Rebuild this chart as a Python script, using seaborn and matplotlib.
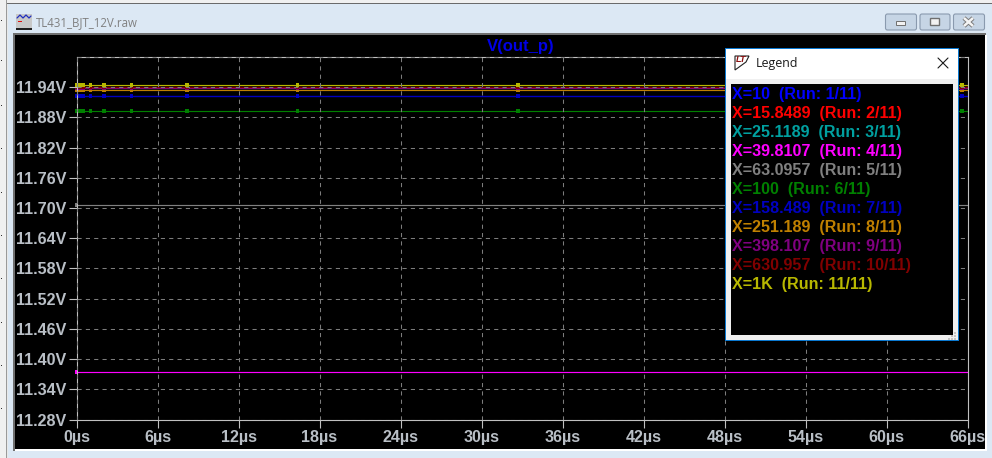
"""LTspice style waveform window for V(out_p), drawn with seaborn."""
from __future__ import annotations

import matplotlib

matplotlib.use("Agg")
import matplotlib.pyplot as plt
import numpy as np
import pandas as pd
import seaborn as sns
from matplotlib.patches import FancyBboxPatch, Polygon, Rectangle

W, H = 992, 458

RUN_LABELS = [
    "X=10  (Run: 1/11)", "X=15.8489  (Run: 2/11)", "X=25.1189  (Run: 3/11)",
    "X=39.8107  (Run: 4/11)", "X=63.0957  (Run: 5/11)", "X=100  (Run: 6/11)",
    "X=158.489  (Run: 7/11)", "X=251.189  (Run: 8/11)", "X=398.107  (Run: 9/11)",
    "X=630.957  (Run: 10/11)", "X=1K  (Run: 11/11)",
]
RUN_COLORS = [
    "#0000ff", "#ff0000", "#00a0a0", "#ff00ff", "#808080", "#008000",
    "#0000c0", "#c08000", "#800080", "#800000", "#b8b800",
]
RUN_LEVELS = [
    11.9225, 11.9400, 11.9380, 11.3740, 11.7060, 11.8927,
    11.9225, 11.9344, 11.9380, 11.9400, 11.9444,
]
SAMPLE_TIMES = [0, 0.25, 0.5, 1.02, 2.05, 4.06, 8.2, 16.35, 32.7, 65.6]
SHORT_RUNS = [3, 4]  # these two only carry a point at t=0
END_TIME = 66

Y_TICKS = [11.28, 11.34, 11.40, 11.46, 11.52, 11.58, 11.64, 11.70, 11.76, 11.82, 11.88, 11.94, 12.00]
X_TICKS = [0, 6, 12, 18, 24, 30, 36, 42, 48, 54, 60, 66]
TITLE = "V(out_p)"
WINDOW_TITLE = "TL431_BJT_12V.raw"
TICK_GREY = "#b9bfc6"


def build_frames() -> tuple[pd.DataFrame, pd.DataFrame]:
    lines, points = [], []
    for i, level in enumerate(RUN_LEVELS):
        times = SAMPLE_TIMES[:1] if i in SHORT_RUNS else SAMPLE_TIMES
        for t in times:
            points.append({"run": RUN_LABELS[i], "t": t, "v": level})
        for t in [0, END_TIME]:
            lines.append({"run": RUN_LABELS[i], "t": t, "v": level})
    return pd.DataFrame(lines), pd.DataFrame(points)


def rect(ax, x0, y0, x1, y1, color, **kw):
    ax.add_patch(Rectangle((x0, y0), x1 - x0, y1 - y0, facecolor=color, edgecolor="none", **kw))


def draw_chrome(ax) -> None:
    rect(ax, 0, 0, W, H, "#dce8f4")
    rect(ax, 0, 0, 6, H, "#f0f0f0")
    rect(ax, 6, 0, 7, H, "#9a9a9a")
    rect(ax, 7, 0, W, 3, "#f0f0f0")
    rect(ax, 7, 3, W, 4, "#6a6a6a")
    rect(ax, 7, 4, 8, H, "#e8e8e8")
    ax.imshow(
        np.linspace(0, 1, 30).reshape(-1, 1), extent=(8, W, 34, 4), aspect="auto",
        cmap=matplotlib.colors.LinearSegmentedColormap.from_list("bar", ["#bccfe2", "#dbe7f3"]),
    )
    ax.set_xlim(0, W)
    ax.set_ylim(H, 0)
    rect(ax, 13, 33, 986, 451, "#707070")
    rect(ax, 15, 35, 985, 449, "#000000")
    rect(ax, 15, 449, 986, 451, "#ffffff")
    rect(ax, 985, 35, 987, 451, "#ffffff")

    for y in [20, 60, 105, 148, 192, 235, 278, 322, 365, 408]:
        rect(ax, 1, y / 1, 2, y + 1, "#303030")

    # window icon
    rect(ax, 16, 14, 32, 29, "#c8c8c8")
    ax.plot([17, 20, 23, 26, 29, 31], [18, 15, 18, 15, 18, 16], color="#2030c0", lw=0.9)
    rect(ax, 18, 21, 22, 22, "#e01010")
    rect(ax, 16, 28, 32, 29.5, "#202020")
    ax.text(36, 23, WINDOW_TITLE, color="#808080", fontsize=8.3, family="Open Sans", va="center")

    # minimise, restore, close
    for x0, x1 in [(885.5, 916.5), (920, 950), (953.5, 984.5)]:
        ax.add_patch(FancyBboxPatch((x0, 14), x1 - x0, 16, boxstyle="round,pad=0,rounding_size=2",
                                    facecolor="#c6d5e5", edgecolor="#8a9aae", lw=0.8))
    ax.add_patch(Rectangle((896, 21), 9, 4, facecolor="#f2f2f2", edgecolor="#6f6f6f", lw=0.7))
    ax.add_patch(Rectangle((930, 18), 9, 7, facecolor="#f2f2f2", edgecolor="#6f6f6f", lw=1.0))
    ax.plot([964, 973], [18, 26], color="#7a7a7a", lw=3.2, solid_capstyle="butt")
    ax.plot([964, 973], [26, 18], color="#7a7a7a", lw=3.2, solid_capstyle="butt")
    ax.plot([964, 973], [18, 26], color="#f4f4f4", lw=1.8, solid_capstyle="butt")
    ax.plot([964, 973], [26, 18], color="#f4f4f4", lw=1.8, solid_capstyle="butt")


def draw_waveforms(ax, lines: pd.DataFrame, points: pd.DataFrame) -> None:
    palette = dict(zip(RUN_LABELS, RUN_COLORS))
    sns.lineplot(data=lines, x="t", y="v", hue="run", hue_order=RUN_LABELS, palette=palette,
                 estimator=None, errorbar=None, linewidth=0.85, legend=False, ax=ax, zorder=2)
    sns.scatterplot(data=points, x="t", y="v", hue="run", hue_order=RUN_LABELS, palette=palette,
                    marker="s", s=6, linewidth=0, legend=False, ax=ax, zorder=2, clip_on=False)

    ax.set_facecolor("#000000")
    ax.set_xlim(0, END_TIME)
    ax.set_ylim(11.28, 12.00)
    ax.set_xticks(X_TICKS)
    ax.set_xticklabels([f"{t}µs" for t in X_TICKS])
    ax.set_yticks(Y_TICKS)
    ax.set_yticklabels([f"{v:.2f}V" if v < 12 else "" for v in Y_TICKS])
    ax.set_xlabel("")
    ax.set_ylabel("")
    ax.set_axisbelow(False)
    ax.grid(True, color="#7c7c7c", lw=0.75, linestyle=(0, (4, 4)))
    for spine in ax.spines.values():
        spine.set_color("#c0c0c0")
        spine.set_linewidth(0.8)
        spine.set_visible(True)
    ax.tick_params(axis="both", which="major", length=6, width=0.8, color="#c0c0c0",
                   labelcolor=TICK_GREY, labelsize=11.6, pad=1.5, left=True, bottom=True)
    ax.yaxis.get_major_ticks()[-1].tick1line.set_visible(False)
    for label in ax.get_xticklabels() + ax.get_yticklabels():
        label.set_fontweight("bold")
    ax.set_title(TITLE, color="#0000e6", fontweight="bold", fontsize=12, pad=4, x=0.4985)


def draw_legend_window(ax) -> None:
    ax.set_xlim(0, W)
    ax.set_ylim(H, 0)
    ax.axis("off")
    rect(ax, 725, 48, 959, 341, "#0a78d0")
    rect(ax, 726, 49, 958, 340, "#f0f0f0")
    rect(ax, 726, 49, 958, 79, "#ffffff")
    rect(ax, 731, 84, 953, 335, "#000000")
    for y in [333, 336, 339]:
        for x in [948, 951, 954]:
            if x - 948 + y - 333 >= 6:
                rect(ax, x, y - 1, x + 2, y + 1, "#c4c4c4")

    # little LT flag icon
    ax.add_patch(Polygon([[735, 56], [749, 56], [746, 62], [735, 70]], closed=True,
                         facecolor="#ffffff", edgecolor="#202020", lw=0.8))
    ax.text(741.5, 59.5, "LT", color="#8b1010", fontsize=6.5, fontweight="bold",
            style="italic", ha="center", va="center")
    ax.text(755.5, 63.5, "Legend", color="#1a1a1a", fontsize=8.9, family="Open Sans", va="center")
    ax.plot([938, 948], [58, 68], color="#1a1a1a", lw=0.8)
    ax.plot([938, 948], [68, 58], color="#1a1a1a", lw=0.8)

    for i, (label, color) in enumerate(zip(RUN_LABELS, RUN_COLORS)):
        ax.text(732.5, 94.6 + i * 18.95, label, color=color, fontsize=11.6, fontweight="bold", va="center")


def main() -> None:
    sns.set_theme(style="dark", rc={"axes.grid": True})
    plt.rcParams["font.family"] = ["Liberation Sans", "DejaVu Sans"]

    lines, points = build_frames()

    fig = plt.figure(figsize=(W / 100, H / 100), dpi=100)
    chrome = fig.add_axes([0, 0, 1, 1], zorder=0)
    chrome.axis("off")
    draw_chrome(chrome)

    left, right, top, bottom = 76.5, 967.5, 57.0, 419.5
    ax = fig.add_axes([left / W, 1 - bottom / H, (right - left) / W, (bottom - top) / H], zorder=1)
    draw_waveforms(ax, lines, points)

    overlay = fig.add_axes([0, 0, 1, 1], zorder=2)
    overlay.patch.set_alpha(0)
    draw_legend_window(overlay)

    fig.savefig("out.png", dpi=100)
    plt.close(fig)


if __name__ == "__main__":
    main()
